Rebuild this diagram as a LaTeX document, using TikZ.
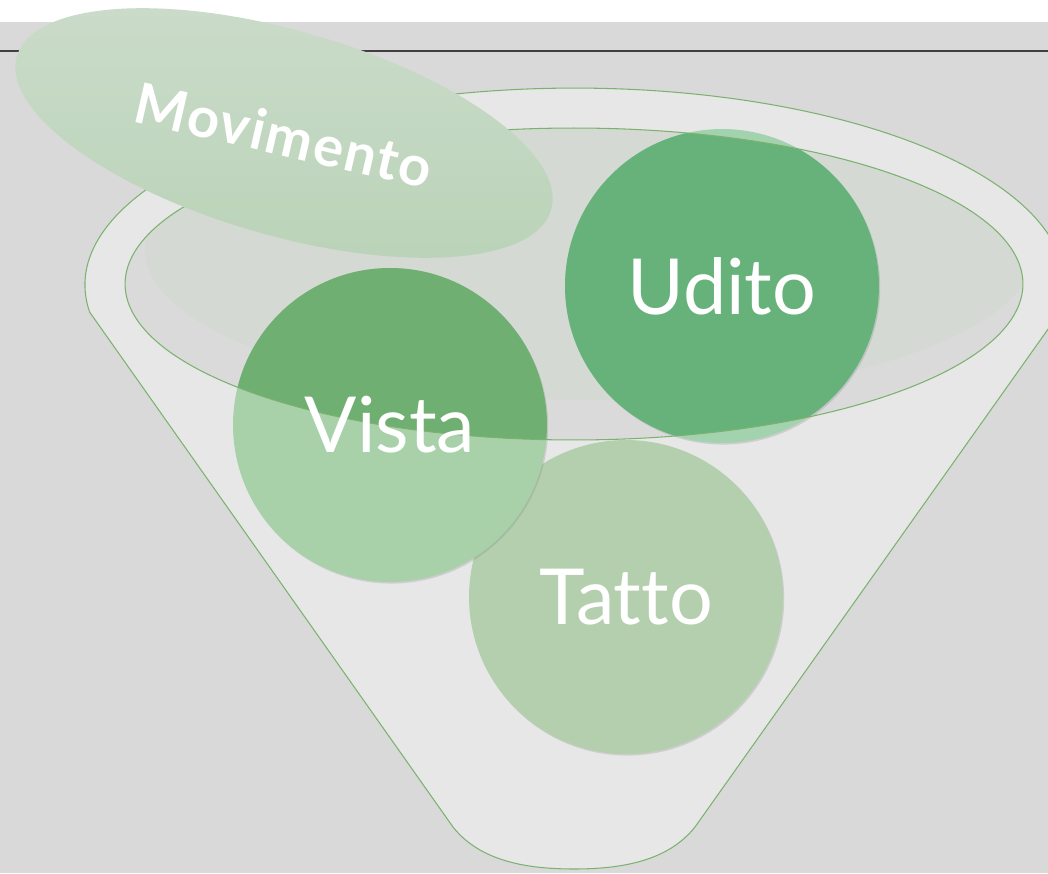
\documentclass[tikz,border=0pt]{standalone}
\usepackage{fontspec}
\setmainfont{Lato}[Ligatures=NoCommon]
\newfontfamily\movfont{Lato}[Ligatures=NoCommon, LetterSpace=3]
\usetikzlibrary{shapes.geometric,shadows}

\definecolor{slidegray}{HTML}{D9D9D9}
\definecolor{funnelgray}{HTML}{E7E7E7}
\definecolor{mouthgray}{HTML}{DADADA}
\definecolor{mouthsoft}{HTML}{D4D9D3}
\definecolor{rimgreen}{HTML}{7CB26F}
\definecolor{vistadark}{HTML}{6FAF72}
\definecolor{vistalight}{HTML}{A8D1AA}
\definecolor{uditodark}{HTML}{66B27A}
\definecolor{uditolight}{HTML}{A3D3AE}
\definecolor{tattolight}{HTML}{B3CFAD}
\definecolor{movtop}{HTML}{CBDCCA}
\definecolor{movbottom}{HTML}{BAD3B8}

\begin{document}
\begin{tikzpicture}[x=0.02cm,y=0.02cm]
    \tikzstyle{sense} = [circle, minimum size=6.28cm, inner sep=0pt,
                         drop shadow={shadow xshift=0.7pt, shadow yshift=-0.9pt, opacity=0.25}]
    \tikzstyle{senselabel} = [text=white, inner sep=0pt, font=\fontsize{44}{44}\selectfont]
    \tikzstyle{rim} = [draw=rimgreen, line width=0.6pt]
    \useasboundingbox (0,0) rectangle (1048,873);

    % Slide background, white strip on top and the rule
    \fill [white] (0,0) rectangle (1048,873);
    \fill [slidegray] (0,0) rectangle (1048,851);
    \draw [black!75, line width=0.7pt] (0,822) -- (1048,822);

    % Funnel body, outer rim down to the spout
    \draw [rim, fill=funnelgray] (89.65,560.9)
        arc [start angle=187.9, end angle=-7.9, x radius=9.8cm, y radius=3.94cm]
        -- (695,46) .. controls (668,12) and (622,4) .. (574,4)
        .. controls (526,4) and (480,12) .. (453,46) -- cycle;

    % Funnel mouth, inner ellipse
    \fill [mouthgray] (574,589) ellipse [x radius=8.98cm, y radius=3.12cm];
    \begin{scope}
        \clip (574,589) ellipse [x radius=8.98cm, y radius=3.12cm];
        \fill [mouthsoft] (590,623) ellipse [x radius=8.9cm, y radius=3cm];
    \end{scope}

    % Bottom circle
    \node [sense, fill=tattolight] (Tatto) at (626,276) {};

      % Top right circle
      \node [sense, fill=uditolight] (Udito) at (722,587) {};

      % Left circle
      \node [sense, fill=vistalight] (Vista) at (390,448) {};

    % Parts of the circles seen through the mouth
    \begin{scope}
        \clip (574,589) ellipse [x radius=8.98cm, y radius=3.12cm];
        \fill [uditodark] (Udito.center) circle [radius=3.14cm];
        \fill [vistadark] (Vista.center) circle [radius=3.14cm];
    \end{scope}
    \draw [rim] (574,589) ellipse [x radius=8.98cm, y radius=3.12cm];

    % Circle labels
    \node [senselabel] (TattoText) at (Tatto) {Tatto};
    \node [senselabel] (UditoText) at (Udito) {Udito};
    \node [senselabel] (VistaText) at (Vista) {Vista};

    % Tilted ellipse on the rim
    \node [ellipse, minimum width=11.12cm, minimum height=4.1cm, rotate=-16,
           top color=movtop, bottom color=movbottom] (MovimentoShape) at (284,740) {};
    \node [rotate=-13, text=white, font=\movfont\bfseries\fontsize{32}{32}\selectfont]
          (Movimento) at (284,738) {Movimento};
\end{tikzpicture}
\end{document}
